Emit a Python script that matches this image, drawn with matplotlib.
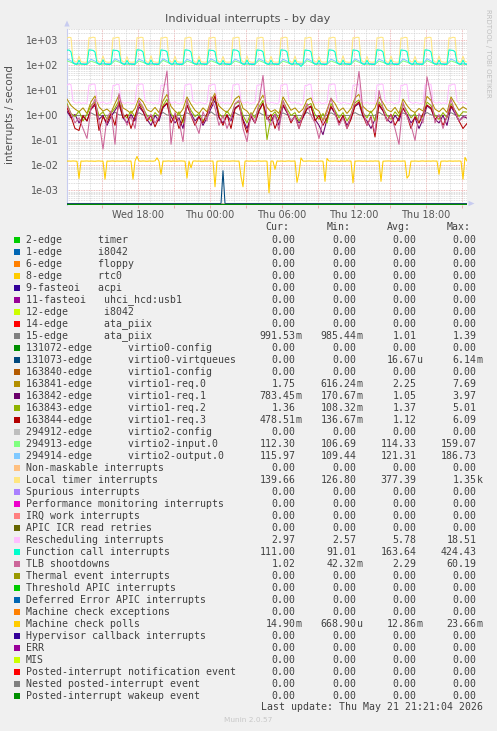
#!/usr/bin/env python
# munin "Individual interrupts - by day" graph, redrawn with matplotlib

import numpy as np
import matplotlib
matplotlib.use("Agg")
import matplotlib.pyplot as plt
from matplotlib.patches import Rectangle, Polygon
from matplotlib.ticker import FixedLocator, NullFormatter, MultipleLocator

# time axis in hours since Wed 00:00, graph runs Wed 12:05 .. Thu 21:25
t_start = 12 + 5 / 60
t_end = 45 + 25 / 60
t10 = t_start + np.arange(201) / 6   # 10 minute samples
t20 = t_start + np.arange(101) / 3   # 20 minute samples

xtick_hours = [18, 24, 30, 36, 42]
xtick_labels = ["Wed 18:00", "Thu 00:00", "Thu 06:00", "Thu 12:00", "Thu 18:00"]
ytick_values = [1e-3, 1e-2, 1e-1, 1e0, 1e1, 1e2, 1e3]
ytick_labels = ["1e-03", "1e-02", "1e-01", "1e+00", "1e+01", "1e+02", "1e+03"]

labels = [
    "2-edge      timer",
    "1-edge      i8042",
    "6-edge      floppy",
    "8-edge      rtc0",
    "9-fasteoi   acpi",
    "11-fasteoi   uhci_hcd:usb1",
    "12-edge      i8042",
    "14-edge      ata_piix",
    "15-edge      ata_piix",
    "131072-edge      virtio0-config",
    "131073-edge      virtio0-virtqueues",
    "163840-edge      virtio1-config",
    "163841-edge      virtio1-req.0",
    "163842-edge      virtio1-req.1",
    "163843-edge      virtio1-req.2",
    "163844-edge      virtio1-req.3",
    "294912-edge      virtio2-config",
    "294913-edge      virtio2-input.0",
    "294914-edge      virtio2-output.0",
    "Non-maskable interrupts",
    "Local timer interrupts",
    "Spurious interrupts",
    "Performance monitoring interrupts",
    "IRQ work interrupts",
    "APIC ICR read retries",
    "Rescheduling interrupts",
    "Function call interrupts",
    "TLB shootdowns",
    "Thermal event interrupts",
    "Threshold APIC interrupts",
    "Deferred Error APIC interrupts",
    "Machine check exceptions",
    "Machine check polls",
    "Hypervisor callback interrupts",
    "ERR",
    "MIS",
    "Posted-interrupt notification event",
    "Nested posted-interrupt event",
    "Posted-interrupt wakeup event",
]

colors = [
    "#00CC00", "#0066B3", "#FF8000", "#FFCC00", "#330099", "#990099", "#CCFF00",
    "#FF0000", "#808080", "#008F00", "#00487D", "#B35A00", "#B38F00", "#6B006B",
    "#8FB300", "#B30000", "#BEBEBE", "#80FF80", "#80C9FF", "#FFC080", "#FFE680",
    "#AA80FF", "#EE00CC", "#FF8080", "#666600", "#FFBFFF", "#00FFCC", "#CC6699",
    "#999900", "#00CC00", "#0066B3", "#FF8000", "#FFCC00", "#330099", "#990099",
    "#CCFF00", "#FF0000", "#808080", "#008F00",
]

z = "0.00"
cur_vals = [z, z, z, z, z, z, z, z, "991.53m", z, z, z, "1.75", "783.45m", "1.36",
            "478.51m", z, "112.30", "115.97", z, "139.66", z, z, z, z, "2.97",
            "111.00", "1.02", z, z, z, z, "14.90m", z, z, z, z, z, z]
min_vals = [z, z, z, z, z, z, z, z, "985.44m", z, z, z, "616.24m", "170.67m",
            "108.32m", "136.67m", z, "106.69", "109.44", z, "126.80", z, z, z, z,
            "2.57", "91.01", "42.32m", z, z, z, z, "668.90u", z, z, z, z, z, z]
avg_vals = [z, z, z, z, z, z, z, z, "1.01", z, "16.67u", z, "2.25", "1.05", "1.37",
            "1.12", z, "114.33", "121.31", z, "377.39", z, z, z, z, "5.78",
            "163.64", "2.29", z, z, z, z, "12.86m", z, z, z, z, z, z]
max_vals = [z, z, z, z, z, z, z, z, "1.39", z, "6.14m", z, "7.69", "3.97", "5.01",
            "6.09", z, "159.07", "186.73", z, "1.35k", z, z, z, z, "18.51",
            "424.43", "60.19", z, z, z, z, "23.66m", z, z, z, z, z, z]

# --- series (interrupts / second) ---
edge15 = [
    1.30, 1.05, 1.00, 0.99, 1.00, 1.01, 1.26, 1.04, 1.00, 0.99, 1.01, 1.00,
    1.35, 1.06, 1.01, 0.99, 1.00, 0.99, 1.28, 1.05, 1.00, 1.00, 0.99, 1.01,
    1.32, 1.04, 1.00, 0.99, 1.00, 1.00, 1.27, 1.06, 1.01, 0.99, 1.00, 0.99,
    1.39, 1.05, 1.00, 0.99, 1.01, 1.00, 1.29, 1.04, 1.00, 1.00, 0.99, 1.00,
    1.31, 1.05, 1.01, 0.99, 1.00, 1.01, 1.26, 1.06, 1.00, 0.99, 1.00, 0.99,
    1.33, 1.05, 1.00, 0.99, 1.01, 1.00, 1.28, 1.04, 1.01, 0.99, 1.00, 1.00,
    1.30, 1.06, 1.00, 1.00, 0.99, 1.01, 1.34, 1.05, 1.00, 0.99, 1.00, 0.99,
    1.27, 1.04, 1.01, 0.99, 1.00, 1.00, 1.31, 1.05, 1.00, 0.99, 1.01, 1.00,
    1.29, 1.06, 1.00, 0.99, 0.9915,
]

vq_spike_hour = 25 + 5 / 60   # Thu 01:05
vq_spike_value = 6.14e-3
virtqueues = np.where(np.isclose(t10, vq_spike_hour), vq_spike_value, 0.0)

req0 = [
    4.5, 2.5, 1.8, 1.4, 2.0, 1.2, 3.5, 6.0, 2.2, 1.5, 1.8, 1.3, 3.0, 6.5, 2.0,
    1.6, 1.2, 1.9, 5.0, 3.5, 1.7, 1.4, 2.1, 1.3, 3.8, 7.0, 2.3, 1.5, 1.1, 1.8,
    5.5, 2.8, 1.6, 1.2, 2.0, 1.4, 4.0, 7.7, 2.4, 1.7, 1.3, 2.2, 4.5, 6.0, 1.9,
    1.5, 0.9, 1.8, 3.5, 6.5, 2.1, 1.4, 1.7, 1.2, 5.5, 3.0, 1.6, 2.0, 1.3, 1.8,
    4.2, 5.0, 1.9, 1.5, 0.62, 1.7, 4.8, 3.0, 1.5, 2.0, 1.2, 1.9, 5.0, 7.0, 2.3,
    1.6, 1.3, 2.0, 5.5, 3.2, 1.7, 1.4, 2.1, 1.2, 4.5, 2.5, 1.6, 1.3, 1.9, 1.5,
    5.8, 4.0, 1.8, 1.4, 2.0, 1.3, 5.5, 3.0, 1.6, 2.2, 1.75,
]
req1 = [
    1.5, 0.8, 1.1, 0.5, 0.9, 0.6, 1.8, 2.5, 0.7, 1.0, 0.4, 0.9, 1.6, 2.8, 0.8,
    0.5, 1.1, 0.6, 2.2, 1.4, 0.7, 0.4, 1.0, 0.6, 2.0, 3.0, 0.9, 0.5, 0.8, 0.3,
    2.5, 1.2, 0.6, 0.9, 0.4, 0.8, 1.9, 3.97, 0.8, 0.5, 1.0, 0.6, 2.0, 2.6, 0.7,
    0.3, 0.9, 0.5, 1.6, 3.2, 0.8, 0.6, 1.1, 0.4, 2.4, 1.3, 0.6, 0.9, 0.5, 0.8,
    1.8, 2.2, 0.7, 0.4, 0.17, 0.7, 2.1, 1.2, 0.5, 0.9, 0.4, 0.8, 2.3, 3.0, 0.9,
    0.6, 0.3, 0.7, 2.5, 1.5, 0.7, 0.5, 1.0, 0.6, 1.9, 1.1, 0.5, 0.8, 0.3, 0.7,
    2.4, 1.8, 0.7, 0.5, 1.0, 0.4, 2.2, 1.2, 0.6, 0.9, 0.78,
]
req2 = [
    3.0, 1.2, 0.9, 1.5, 0.6, 1.1, 2.5, 3.5, 1.0, 1.4, 0.7, 1.2, 2.0, 4.0, 1.1,
    0.8, 1.5, 0.9, 3.2, 2.0, 1.0, 0.6, 1.3, 0.9, 2.5, 4.5, 1.2, 0.7, 1.4, 0.5,
    3.5, 1.6, 0.9, 1.2, 0.6, 1.0, 2.8, 5.0, 1.2, 0.8, 1.5, 0.9, 2.9, 3.5, 1.0,
    0.5, 1.3, 0.8, 2.2, 4.0, 0.108, 0.9, 1.4, 0.7, 3.8, 1.8, 1.0, 1.3, 0.6, 1.1,
    2.5, 3.0, 1.1, 0.7, 1.2, 0.5, 3.0, 1.6, 0.8, 1.3, 0.6, 1.1, 3.2, 4.2, 1.3,
    0.8, 1.5, 0.6, 3.5, 2.0, 1.0, 0.7, 1.4, 0.9, 2.8, 1.5, 0.8, 1.2, 0.5, 1.0,
    3.4, 2.5, 1.0, 0.7, 1.3, 0.8, 3.0, 1.6, 0.9, 1.4, 1.36,
]
req3 = [
    2.0, 0.9, 0.3, 0.25, 1.0, 0.6, 1.8, 3.0, 0.25, 0.9, 0.5, 1.2, 0.4, 3.5, 0.8,
    1.1, 0.3, 0.9, 2.8, 1.5, 0.6, 1.0, 0.35, 0.8, 2.2, 3.2, 0.5, 1.1, 0.3, 0.7,
    2.6, 1.0, 0.4, 0.9, 0.5, 1.2, 2.5, 6.09, 0.9, 0.4, 1.1, 0.3, 1.8, 2.5, 0.6,
    0.2, 1.0, 0.5, 1.5, 3.0, 0.7, 1.1, 0.3, 0.8, 2.7, 1.4, 0.5, 1.0, 0.3, 0.9,
    1.9, 2.4, 0.6, 1.0, 0.4, 0.8, 2.3, 1.3, 0.5, 1.0, 0.3, 0.7, 2.5, 3.5, 1.0,
    0.4, 0.9, 0.137, 2.8, 1.6, 0.6, 1.1, 0.4, 0.8, 2.0, 1.0, 0.3, 0.9, 0.5, 1.2,
    2.6, 2.0, 0.7, 1.0, 0.4, 0.9, 2.4, 1.5, 0.6, 0.3, 0.4785,
]
vin = [
    152, 134, 114, 112, 113, 111, 148, 131, 113, 112, 114, 112,
    155, 136, 114, 111, 113, 112, 150, 133, 113, 112, 114, 111,
    159, 135, 114, 112, 113, 112, 149, 132, 113, 111, 114, 112,
    153, 134, 114, 112, 113, 111, 151, 133, 113, 112, 114, 112,
    156, 136, 114, 111, 113, 112, 148, 131, 113, 112, 114, 111,
    154, 135, 114, 112, 113, 112, 150, 132, 113, 111, 114, 112,
    157, 134, 114, 112, 113, 111, 149, 133, 113, 112, 114, 112,
    152, 135, 114, 111, 113, 112, 155, 132, 113, 112, 114, 111,
    151, 134, 114, 112, 112.3,
]
vout = [
    182, 152, 121, 118, 119, 117, 176, 149, 120, 118, 120, 118,
    186, 154, 121, 117, 119, 118, 179, 151, 120, 118, 120, 117,
    184, 153, 121, 118, 119, 118, 177, 150, 120, 117, 120, 118,
    183, 152, 121, 118, 119, 117, 180, 151, 120, 118, 120, 118,
    187, 154, 121, 117, 119, 118, 176, 149, 120, 118, 120, 117,
    185, 153, 121, 118, 119, 118, 178, 150, 120, 117, 120, 118,
    184, 152, 121, 118, 119, 117, 179, 151, 120, 118, 120, 118,
    182, 153, 121, 117, 119, 118, 186, 150, 120, 118, 120, 117,
    181, 152, 121, 118, 115.97,
]
loc = [
    1250, 1340, 1290, 175, 142, 136, 235, 140, 137, 133, 138, 1280,
    1270, 1350, 1300, 168, 139, 135, 240, 143, 136, 134, 140, 1260,
    1240, 1330, 1310, 172, 141, 137, 225, 139, 135, 136, 139, 1290,
    1260, 1345, 1295, 170, 138, 134, 245, 141, 138, 133, 137, 1270,
    1255, 1340, 1305, 174, 140, 136, 230, 142, 136, 135, 138, 1250,
    1265, 1350, 1290, 169, 137, 135, 238, 140, 137, 134, 141, 1285,
    1245, 1335, 1300, 171, 141, 138, 228, 139, 135, 136, 138, 1265,
    1260, 1345, 1310, 173, 139, 134, 242, 143, 137, 133, 139, 1275,
    1250, 1340, 1295, 170, 140, 136, 232, 141, 136, 135, 140, 1255,
    1270, 1350, 1300, 168, 138, 135, 236, 140, 138, 134, 137, 1280,
    1240, 1330, 1305, 175, 141, 137, 226, 142, 135, 136, 139, 1260,
    1265, 1345, 1290, 170, 139, 134, 244, 139, 137, 133, 138, 1290,
    1255, 1340, 1310, 172, 140, 136, 231, 141, 136, 135, 140, 1270,
    1260, 1350, 1300, 169, 137, 135, 239, 143, 138, 134, 139, 1250,
    1245, 1335, 1295, 174, 141, 138, 227, 140, 135, 136, 137, 1285,
    1265, 1345, 1305, 171, 139, 134, 241, 142, 137, 133, 138, 1265,
    1250, 1340, 1300, 170, 140, 136, 233, 141, 139.66,
]
res = [
    16.2, 18.1, 17.0, 3.7, 3.2, 3.1, 3.4, 3.0, 3.2, 3.1, 3.0, 16.4,
    16.8, 18.3, 17.4, 3.8, 3.1, 3.2, 3.5, 3.1, 3.0, 3.2, 3.1, 15.9,
    15.9, 17.8, 17.1, 3.6, 3.3, 3.0, 3.3, 3.2, 3.1, 3.0, 3.2, 16.6,
    16.5, 18.5, 17.3, 3.7, 3.2, 3.1, 3.4, 3.0, 3.2, 3.1, 3.0, 16.1,
    16.1, 18.0, 17.0, 3.8, 3.1, 3.2, 3.5, 3.1, 3.0, 3.2, 3.1, 16.5,
    16.7, 18.2, 17.5, 3.6, 3.3, 3.0, 3.3, 3.2, 3.1, 2.9, 3.2, 16.0,
    16.0, 17.9, 17.2, 3.7, 3.2, 3.1, 3.4, 3.0, 3.2, 3.1, 3.0, 16.7,
    16.6, 18.4, 17.1, 3.8, 3.1, 3.2, 3.5, 3.1, 3.0, 3.2, 3.1, 16.2,
    16.3, 18.1, 17.4, 3.6, 3.3, 3.0, 3.3, 3.2, 3.1, 3.0, 3.2, 16.4,
    16.4, 18.3, 17.0, 3.7, 3.2, 3.1, 3.4, 3.0, 3.2, 2.57, 3.0, 15.8,
    15.8, 17.7, 17.3, 3.8, 3.1, 3.2, 3.5, 3.1, 3.0, 3.2, 3.1, 16.8,
    16.9, 18.5, 17.2, 3.6, 3.3, 3.0, 3.3, 3.2, 3.1, 3.0, 3.2, 16.3,
    16.2, 18.0, 17.1, 3.7, 3.2, 3.1, 3.4, 3.0, 3.2, 3.1, 3.0, 16.5,
    16.6, 18.2, 17.4, 3.8, 3.1, 3.2, 3.5, 3.1, 3.0, 3.2, 3.1, 16.1,
    16.0, 17.9, 17.0, 3.6, 3.3, 3.0, 3.3, 3.2, 3.1, 3.0, 3.2, 16.6,
    16.5, 18.4, 17.3, 3.7, 3.2, 3.1, 3.4, 3.0, 3.2, 3.1, 3.0, 16.2,
    16.3, 18.1, 17.2, 3.8, 3.1, 3.2, 3.5, 3.1, 2.97,
]
cal = [
    405, 415, 350, 126, 113, 110, 162, 114, 111, 109, 112, 420,
    410, 400, 345, 124, 112, 111, 168, 113, 110, 108, 113, 415,
    400, 398, 355, 127, 114, 109, 158, 115, 112, 110, 111, 424,
    412, 404, 348, 125, 113, 110, 165, 114, 111, 109, 112, 418,
    404, 396, 352, 126, 112, 111, 160, 113, 110, 108, 113, 421,
    409, 401, 346, 124, 114, 109, 167, 115, 112, 110, 111, 417,
    401, 397, 354, 127, 113, 110, 159, 114, 111, 109, 112, 423,
    411, 403, 349, 125, 112, 111, 164, 113, 110, 108, 113, 419,
    406, 399, 351, 126, 114, 109, 161, 115, 112, 110, 111, 422,
    408, 402, 347, 124, 113, 110, 166, 114, 111, 91, 112, 416,
    402, 396, 353, 127, 112, 111, 158, 113, 110, 108, 113, 420,
    410, 400, 348, 125, 114, 109, 163, 115, 112, 110, 111, 418,
    405, 398, 350, 126, 113, 110, 160, 114, 111, 109, 112, 424,
    409, 404, 346, 124, 112, 111, 167, 113, 110, 108, 113, 417,
    403, 397, 354, 127, 114, 109, 159, 115, 112, 110, 111, 421,
    411, 401, 349, 125, 113, 110, 164, 114, 111, 109, 112, 419,
    406, 399, 351, 126, 114, 109, 162, 113, 111.0,
]
tlb = [
    2.5, 1.2, 0.5, 0.8, 0.3, 0.12, 2.0, 4.5, 0.6, 0.045, 0.8, 1.5, 0.07, 7.5, 1.2,
    0.4, 0.9, 0.3, 4.0, 2.2, 0.7, 1.1, 0.5, 0.9, 8.0, 60.19, 0.07, 1.3, 0.6, 0.09,
    4.5, 1.0, 0.5, 0.19, 1.4, 0.6, 5.5, 2.0, 0.4, 1.0, 0.3, 0.8, 3.0, 4.0, 0.3,
    0.09, 1.2, 0.5, 3.5, 40.0, 0.8, 0.4, 1.1, 0.25, 4.0, 1.5, 0.6, 0.9, 0.3, 1.2,
    3.0, 1.0, 0.5, 0.12, 0.6, 1.3, 5.0, 1.2, 0.4, 0.8, 0.3, 1.0, 4.0, 58.0, 1.5,
    0.4, 0.8, 0.2, 10.0, 2.0, 0.6, 1.0, 0.3, 0.07, 3.5, 0.9, 0.4, 0.1, 1.2, 0.5,
    35.0, 6.0, 0.5, 1.1, 0.3, 0.9, 4.5, 1.4, 0.6, 0.8, 1.02,
]
mcp = [
    0.0149, 0.0150, 0.0148, 0.0151, 0.0149, 0.0147, 0.0030, 0.0150, 0.0148, 0.0149,
    0.0151, 0.0148, 0.0150, 0.0149, 0.0147, 0.0150, 0.0151, 0.0148, 0.0149, 0.0028,
    0.0150, 0.0148, 0.0149, 0.0151, 0.0147, 0.0150, 0.0149, 0.0148, 0.0150, 0.0151,
    0.0149, 0.0148, 0.0150, 0.0028, 0.0149, 0.0230, 0.0150, 0.0148, 0.0151, 0.0149,
    0.0147, 0.0150, 0.0149, 0.0148, 0.0151, 0.0200, 0.0149, 0.0044, 0.0150, 0.0148,
    0.0149, 0.0151, 0.0147, 0.0150, 0.0149, 0.0148, 0.0150, 0.0151, 0.0149, 0.0148,
    0.0031, 0.0150, 0.0080, 0.0149, 0.0151, 0.0148, 0.0150, 0.0147, 0.0149, 0.0150,
    0.0148, 0.0151, 0.0149, 0.0150, 0.0014, 0.0148, 0.0149, 0.0151, 0.0147, 0.0150,
    0.0149, 0.0148, 0.0150, 0.0151, 0.0149, 0.0148, 0.0150, 0.0036, 0.0014, 0.0149,
    0.0151, 0.0148, 0.0150, 0.0149, 0.0147, 0.0150, 0.0151, 0.0148, 0.0149, 0.0150,
    0.0148, 0.0008, 0.0150, 0.0149, 0.0070, 0.0151, 0.0148, 0.0150, 0.0149, 0.0147,
    0.0150, 0.0151, 0.0148, 0.0149, 0.0150, 0.0021, 0.0050, 0.0200, 0.0149, 0.0148,
    0.0150, 0.0151, 0.0149, 0.0148, 0.0150, 0.0147, 0.0149, 0.0150, 0.0148, 0.0023,
    0.0190, 0.0149, 0.0150, 0.0148, 0.0151, 0.0149, 0.0147, 0.0150, 0.0149, 0.0148,
    0.0151, 0.0150, 0.0149, 0.0020, 0.0148, 0.0150, 0.0151, 0.0149, 0.0148, 0.0150,
    0.0147, 0.0149, 0.0150, 0.0148, 0.0151, 0.0149, 0.0150, 0.0023, 0.0148, 0.0149,
    0.0150, 0.0151, 0.0148, 0.0149, 0.0147, 0.0150, 0.0149, 0.0148, 0.0150, 0.0151,
    0.0031, 0.0040, 0.0149, 0.0148, 0.0150, 0.0149, 0.0147, 0.0150, 0.0151, 0.0148,
    0.0149, 0.0150, 0.0148, 0.0151, 0.0149, 0.0150, 0.0044, 0.0148, 0.0149, 0.0150,
    0.0147, 0.0151, 0.0149, 0.0148, 0.0150, 0.0149, 0.0151, 0.0148, 0.0028, 0.0210,
    0.0149,
]

# which rows carry non-zero data (everything else sat at 0 all day)
series_data = {
    "15-edge      ata_piix": (t20, edge15),
    "131073-edge      virtio0-virtqueues": (t10, virtqueues),
    "163841-edge      virtio1-req.0": (t20, req0),
    "163842-edge      virtio1-req.1": (t20, req1),
    "163843-edge      virtio1-req.2": (t20, req2),
    "163844-edge      virtio1-req.3": (t20, req3),
    "294913-edge      virtio2-input.0": (t20, vin),
    "294914-edge      virtio2-output.0": (t20, vout),
    "Local timer interrupts": (t10, loc),
    "Rescheduling interrupts": (t10, res),
    "Function call interrupts": (t10, cal),
    "TLB shootdowns": (t20, tlb),
    "Machine check polls": (t10, mcp),
}

W, H = 497, 731
YMIN, YMAX = 3.0e-4, 3.0e3
BG = "#F0F0F0"
TXT = "#404040"
AXIS_COL = "#C8CCF0"

fig = plt.figure(figsize=(W / 100, H / 100), dpi=100, facecolor=BG)
# the axes reach one pixel below the zero floor so the floor line is not clipped
ax = fig.add_axes([67 / W, 1 - 204.5 / H, 400 / W, 176 / H])
ax.set_facecolor("white")

# rrdtool puts zero at the floor of a log graph
for lab, col in zip(labels, colors):
    x, y = series_data.get(lab, (t20, np.zeros(len(t20))))
    y = np.asarray(y, dtype=float)
    ax.plot(x, np.where(y > 0, y, YMIN), color=col, lw=0.75, zorder=3,
            solid_joinstyle="round")

ax.set_yscale("log")
ax.set_ylim(YMIN / 10 ** (1 / 25), YMAX)
ax.set_xlim(t_start, t_end)

ax.yaxis.set_major_locator(FixedLocator(ytick_values))
ax.set_yticklabels(ytick_labels)
ax.yaxis.set_minor_locator(FixedLocator(
    [m * 10.0 ** e for e in range(-4, 4) for m in range(2, 10)]))
ax.yaxis.set_minor_formatter(NullFormatter())

major_x = np.arange(15, 46, 3)
ax.xaxis.set_major_locator(FixedLocator(major_x))
tick_text = dict(zip(xtick_hours, xtick_labels))
ax.set_xticklabels([tick_text.get(int(h), "") for h in major_x])
ax.xaxis.set_minor_locator(MultipleLocator(1))

ax.set_axisbelow(True)
ax.grid(which="minor", color="#D2D2D2", lw=0.6, ls=(0, (1, 1)))
ax.grid(which="major", color="#E8A3A3", lw=0.6, ls=(0, (1, 1)))

ax.tick_params(which="both", length=0)
ax.tick_params(axis="x", which="major", length=2, width=0.6, color="#E8A3A3")
ax.tick_params(axis="y", pad=6, labelsize=7, labelcolor="#555555")
ax.tick_params(axis="x", pad=2, labelsize=7, labelcolor="#555555")
for s in ["top", "right"]:
    ax.spines[s].set_visible(False)
ax.spines["left"].set_color(AXIS_COL)
ax.spines["left"].set_linewidth(0.8)
ax.spines["bottom"].set_visible(False)

# overlay in pixel coordinates for the munin text block
ov = fig.add_axes([0, 0, 1, 1], facecolor="none")
ov.set_xlim(0, W)
ov.set_ylim(H, 0)
ov.axis("off")

ov.add_patch(Polygon([[67, 20.5], [64.3, 26.5], [69.7, 26.5]], closed=True,
                     color=AXIS_COL, lw=0))
ov.add_patch(Polygon([[474.5, 203.5], [468.5, 200.8], [468.5, 206.2]], closed=True,
                     color=AXIS_COL, lw=0))

ov.text(248, 19, "Individual interrupts - by day", ha="center", va="center",
        fontsize=8.2, color="#505050")
ov.text(10, 115, "interrupts / second", ha="center", va="center", rotation=90,
        fontsize=7.5, color="#505050")
ov.text(488, 53, "RRDTOOL / TOBI OETIKER", ha="center", va="center", rotation=270,
        fontsize=5, color="#C0C0C0")

mono = "DejaVu Sans Mono"
fs = 7.1
col_right = [295.3, 356.7, 416.7, 476.7]
for xr, head in zip(col_right, ["Cur:", "Min:", "Avg:", "Max:"]):
    ov.text(xr - 6, 227.5, head, ha="right", va="center", family=mono,
            fontsize=fs, color=TXT)

for k, lab in enumerate(labels):
    y = 240 + 12 * k
    ov.add_patch(Rectangle((14, y - 3), 6, 6, color=colors[k], lw=0))
    ov.text(26, y, lab, ha="left", va="center", family=mono, fontsize=fs, color=TXT)
    for xr, v in zip(col_right, [cur_vals[k], min_vals[k], avg_vals[k], max_vals[k]]):
        num, unit = (v[:-1], v[-1]) if v[-1] in "mukM" else (v, "")
        ov.text(xr, y, num, ha="right", va="center", family=mono, fontsize=fs, color=TXT)
        if unit:
            ov.text(xr, y, unit, ha="left", va="center", family=mono, fontsize=fs,
                    color=TXT)

ov.text(483, 707.5, "Last update: Thu May 21 21:21:04 2026", ha="right", va="center",
        family=mono, fontsize=fs, color=TXT)
ov.text(248, 720, "Munin 2.0.57", ha="center", va="center", fontsize=5.3,
        color="#C8C8C8")

fig.savefig("out.png", dpi=100, facecolor=BG)
